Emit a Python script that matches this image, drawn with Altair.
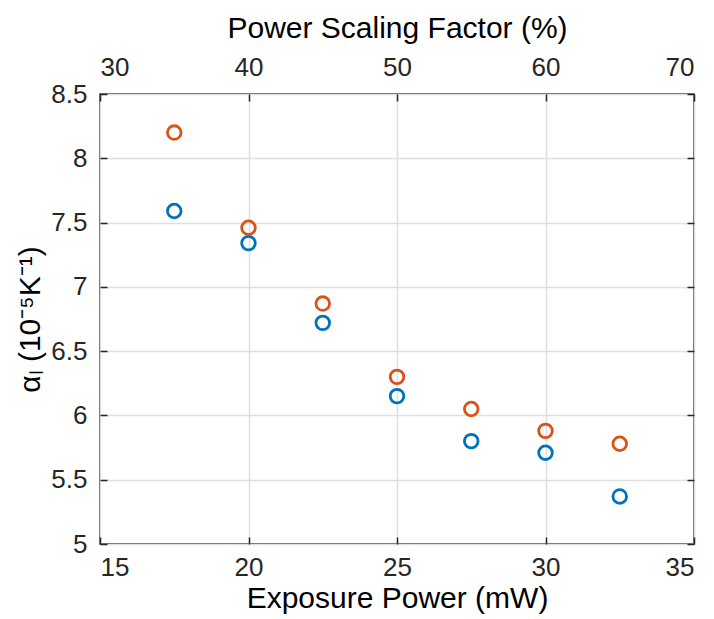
import altair as alt
import pandas as pd

# Data
exposure_power = [17.5, 20, 22.5, 25, 27.5, 30, 32.5]          # mW (bottom axis)
scaling_factor = [35, 40, 45, 50, 55, 60, 65]                  # % (top axis)
series_blue = [7.59, 7.34, 6.72, 6.15, 5.80, 5.71, 5.37]
series_orange = [8.20, 7.46, 6.87, 6.30, 6.05, 5.88, 5.78]

x_ticks = [15, 20, 25, 30, 35]
top_ticks = [30, 40, 50, 60, 70]
y_ticks = [5, 5.5, 6, 6.5, 7, 7.5, 8, 8.5]

rows = []
for p, f, b, o in zip(exposure_power, scaling_factor, series_blue, series_orange):
    rows.append({"power": p, "factor": f, "value": b, "series": "blue"})
    rows.append({"power": p, "factor": f, "value": o, "series": "orange"})
df = pd.DataFrame(rows)

FONT = "Liberation Sans"
INK = "#262626"
TICK = 7
BLUE = "#0072BD"
ORANGE = "#D95319"

common = dict(
    domain=False,
    tickColor=INK,
    tickWidth=1.5,
    tickSize=TICK,
    offset=-TICK,
    labelFont=FONT,
    labelFontSize=26,
    labelColor=INK,
    titleFont=FONT,
    titleFontSize=30,
    titleColor="#000000",
    titleFontWeight="normal",
    gridColor="#dfdfdf",
    gridWidth=1.5,
)

points = alt.Chart(df).mark_point(
    shape="circle", filled=False, size=185, strokeWidth=2.8, opacity=1
).encode(
    x=alt.X(
        "power:Q",
        scale=alt.Scale(domain=[15, 35], nice=False, zero=False),
        axis=alt.Axis(
            orient="bottom", values=x_ticks, title="Exposure Power (mW)",
            grid=True, labelPadding=10, titlePadding=3, format="d", **common
        ),
    ),
    y=alt.Y(
        "value:Q",
        scale=alt.Scale(domain=[5, 8.5], nice=False, zero=False),
        axis=alt.Axis(
            orient="left", values=y_ticks, title="αₗ (10⁻⁵K⁻¹)",
            grid=True, labelPadding=13, titlePadding=5, format=".1~f", **common
        ),
    ),
    color=alt.Color(
        "series:N",
        scale=alt.Scale(domain=["blue", "orange"], range=[BLUE, ORANGE]),
        legend=None,
    ),
)

ghost = alt.Chart(df).mark_point(opacity=0).encode(
    x=alt.X(
        "factor:Q",
        scale=alt.Scale(domain=[30, 70], nice=False, zero=False),
        axis=alt.Axis(
            orient="top", values=top_ticks, title="Power Scaling Factor (%)",
            grid=False, labelPadding=14, titlePadding=11, format="d", **common
        ),
    ),
    y=alt.Y(
        "value:Q",
        scale=alt.Scale(domain=[5, 8.5], nice=False, zero=False),
        axis=alt.Axis(
            orient="right", values=y_ticks, labels=False, title=None,
            grid=False, **common
        ),
    ),
)

chart = (
    alt.layer(points, ghost)
    .resolve_scale(x="independent", y="independent")
    .properties(
        width=594,
        height=450,
        autosize=alt.AutoSizeParams(type="none"),
        padding={"left": 92, "top": 86, "right": 12, "bottom": 72},
        background="white",
    )
    .configure_view(stroke=INK, strokeWidth=1.5)
)

chart.save("out.html", embed_options={"renderer": "svg", "actions": False})
